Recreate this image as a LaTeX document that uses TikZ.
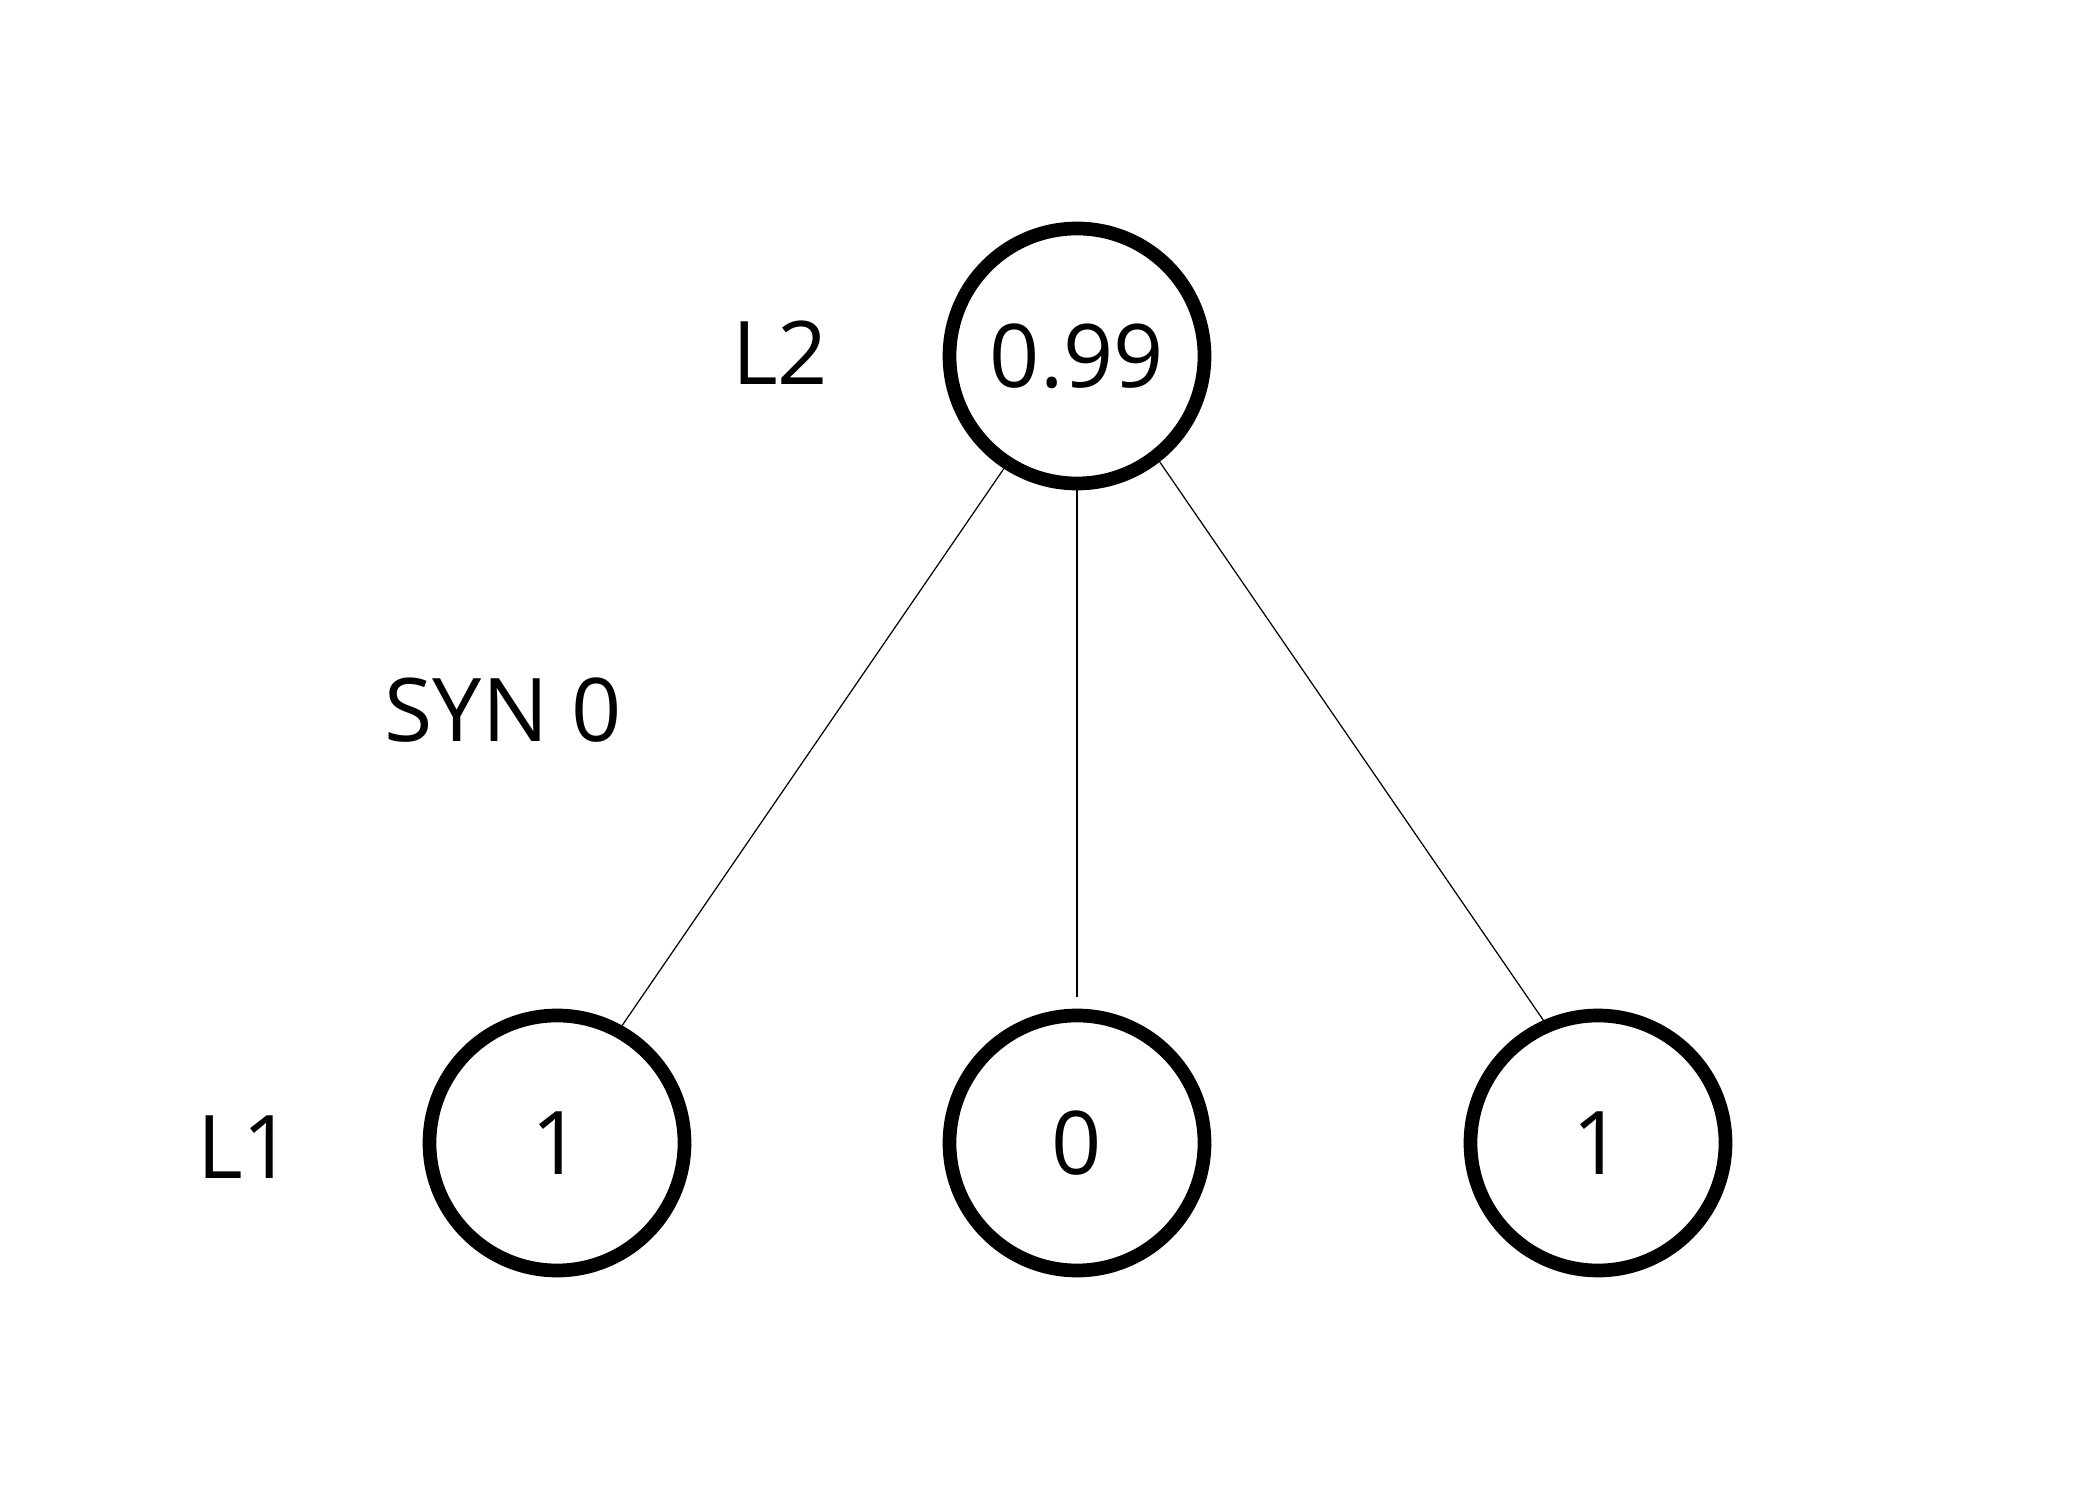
\documentclass[tikz,border=0pt]{standalone}
\usepackage{fontspec}
\setmainfont{Open Sans}
\begin{document}
\begin{tikzpicture}[unit/.style={circle,draw,line width=3.9pt,inner sep=0pt,minimum size=2.55cm,font=\fontsize{25}{30}\selectfont},
    lbl/.style={font=\fontsize{25}{30}\selectfont}]
    \useasboundingbox (0,0) rectangle (21,15);
    \node[unit] (top) at (10.77,11.44) {0.99};
    \node[unit] (l1) at (5.57,3.57) {1};
    \node[unit] (m1) at (10.77,3.57) {0};
    \node[unit] (r1) at (15.98,3.57) {1};
    \node[lbl] (lL2) at (7.80,11.47) {L2};
    \node[lbl] (lsyn) at (5.03,7.90) {SYN 0};
    \node[lbl] (lL1) at (2.45,3.53) {L1};
    \draw[line width=0.35pt] (top.-123) -- (l1.61);
    \draw[line width=0.35pt,shorten >=0.12cm] (top.south) -- (m1.north);
    \draw[line width=0.35pt] (top.-52) -- (r1.114);
  \end{tikzpicture}
\end{document}
